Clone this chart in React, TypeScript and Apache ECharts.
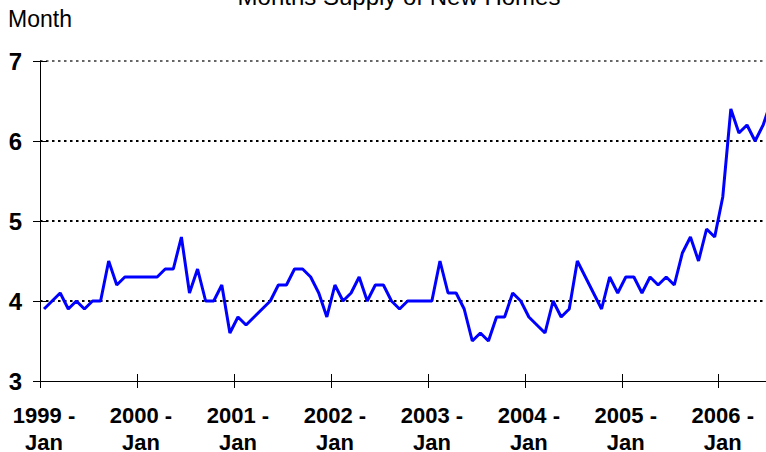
import { useEffect, useRef } from 'react';
import * as echarts from 'echarts';

const FONT = "'Liberation Sans', Arial, Helvetica, sans-serif";

const titleText = 'Months Supply of New Homes';
const unitText = 'Month';

const years = [1999, 2000, 2001, 2002, 2003, 2004, 2005, 2006];
const monthNames = ['Jan', 'Feb', 'Mar', 'Apr', 'May', 'Jun', 'Jul', 'Aug', 'Sep', 'Oct', 'Nov', 'Dec'];

const supply1999 = [3.9, 4.0, 4.1, 3.9, 4.0, 3.9, 4.0, 4.0, 4.5, 4.2, 4.3, 4.3];
const supply2000 = [4.3, 4.3, 4.3, 4.4, 4.4, 4.8, 4.1, 4.4, 4.0, 4.0, 4.2, 3.6];
const supply2001 = [3.8, 3.7, 3.8, 3.9, 4.0, 4.2, 4.2, 4.4, 4.4, 4.3, 4.1, 3.8];
const supply2002 = [4.2, 4.0, 4.1, 4.3, 4.0, 4.2, 4.2, 4.0, 3.9, 4.0, 4.0, 4.0];
const supply2003 = [4.0, 4.5, 4.1, 4.1, 3.9, 3.5, 3.6, 3.5, 3.8, 3.8, 4.1, 4.0];
const supply2004 = [3.8, 3.7, 3.6, 4.0, 3.8, 3.9, 4.5, 4.3, 4.1, 3.9, 4.3, 4.1];
const supply2005 = [4.3, 4.3, 4.1, 4.3, 4.2, 4.3, 4.2, 4.6, 4.8, 4.5, 4.9, 4.8];
const supply2006 = [5.3, 6.4, 6.1, 6.2, 6.0, 6.2, 6.5];

const yMin = 3;
const yMax = 7;
const yStep = 1;

const values = [
  ...supply1999, ...supply2000, ...supply2001, ...supply2002,
  ...supply2003, ...supply2004, ...supply2005, ...supply2006,
];
const categories = values.map((_, i) => `${years[Math.floor(i / 12)]} -\n${monthNames[i % 12]}`);

const isJan = (i: number) => i % 12 === 0;

export default function App() {
  const ref = useRef<HTMLDivElement>(null);
  useEffect(() => {
    if (!ref.current) return;
    const chart = echarts.init(ref.current, undefined, { renderer: 'svg' });
    const band = 8.08;
    chart.setOption({
      animation: false,
      backgroundColor: '#ffffff',
      grid: {
        left: 40,
        top: 61,
        width: band * values.length,
        height: 320,
        containLabel: false,
        outerBoundsMode: 'none',
      },
      graphic: [
        {
          type: 'text',
          x: 399,
          y: -4,
          style: {
            text: titleText,
            font: `24px ${FONT}`,
            fill: '#000',
            textAlign: 'center',
            textVerticalAlign: 'middle',
          },
        },
        {
          type: 'text',
          x: 8,
          y: 19,
          style: {
            text: unitText,
            font: `23px ${FONT}`,
            fill: '#000',
            textAlign: 'left',
            textVerticalAlign: 'middle',
          },
        },
      ],
      xAxis: [
        {
          type: 'category',
          data: categories,
          boundaryGap: true,
          position: 'bottom',
          axisLine: { show: true, lineStyle: { color: '#000', width: 1 } },
          axisTick: { show: true, inside: false, length: 7, interval: (i: number) => isJan(i), lineStyle: { color: '#000', width: 1 } },
          axisLabel: {
            show: true,
            interval: (i: number) => isJan(i),
            margin: 21,
            color: '#000',
            fontFamily: FONT,
            fontWeight: 'bold',
            fontSize: 22,
            lineHeight: 27,
            align: 'center',
          },
          splitLine: { show: false },
        },
        {
          type: 'category',
          data: categories,
          boundaryGap: true,
          position: 'bottom',
          axisLine: { show: false },
          axisTick: { show: true, inside: true, length: 7, interval: (i: number) => isJan(i), lineStyle: { color: '#000', width: 1 } },
          axisLabel: { show: false },
          splitLine: { show: false },
        },
      ],
      yAxis: [
        {
          type: 'value',
          min: yMin,
          max: yMax,
          interval: yStep,
          position: 'left',
          axisLine: { show: true, lineStyle: { color: '#000', width: 1 } },
          axisTick: { show: true, inside: false, length: 7, lineStyle: { color: '#000', width: 1 } },
          axisLabel: {
            show: true,
            margin: 18,
            color: '#000',
            fontFamily: FONT,
            fontWeight: 'bold',
            fontSize: 24,
          },
          splitLine: {
            show: true,
            lineStyle: {
              color: ['rgba(0,0,0,0)', '#000', '#000', '#000', '#666'],
              width: 2,
              type: [2.5, 3.5],
            },
          },
        },
        {
          type: 'value',
          min: yMin,
          max: yMax,
          interval: yStep,
          position: 'left',
          axisLine: { show: false },
          axisTick: { show: true, inside: true, length: 7, lineStyle: { color: '#000', width: 1 } },
          axisLabel: { show: false },
          splitLine: { show: false },
        },
      ],
      series: [
        {
          type: 'line',
          data: values,
          xAxisIndex: 0,
          yAxisIndex: 0,
          symbol: 'none',
          lineStyle: { color: '#0000ff', width: 3 },
          z: 5,
        },
      ],
    });
    return () => chart.dispose();
  }, []);
  return (
    <div style={{ position: 'fixed', left: 0, top: 0, width: 766, height: 452, overflow: 'hidden', background: '#fff' }}>
      <div ref={ref} style={{ width: 800, height: 452 }} />
    </div>
  );
}
